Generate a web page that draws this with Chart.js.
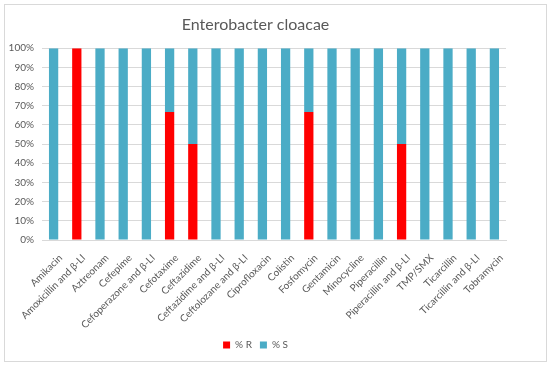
<!DOCTYPE html>
<html>
<head>
<meta charset="utf-8">
<script src="https://cdn.jsdelivr.net/npm/chart.js@4"></script>
<style>
    html, body { margin: 0; padding: 0; background: #fff; }
    #box { position: absolute; left: 4px; top: 4px; width: 541px; height: 356px; border: 1px solid #d9d9d9; }
    #chart { display: block; }
</style>
</head>
<body>
<div id="box"><canvas id="chart" width="541" height="356"></canvas></div>
<script>
const categories = ['Amikacin', 'Amoxicillin and β-LI', 'Aztreonam', 'Cefepime', 'Cefoperazone and β-LI',
    'Cefotaxime', 'Ceftazidime', 'Ceftazidime and β-LI', 'Ceftolozane and β-LI', 'Ciprofloxacin',
    'Colistin', 'Fosfomycin', 'Gentamicin', 'Minocycline', 'Piperacillin', 'Piperacillin and β-LI',
    'TMP/SMX', 'Ticarcillin', 'Ticarcillin and β-LI', 'Tobramycin'];
const pctR = [0, 100, 0, 0, 0, 66.7, 50, 0, 0, 0, 0, 66.7, 0, 0, 0, 50, 0, 0, 0, 0];
const pctS = [100, 0, 100, 100, 100, 33.3, 50, 100, 100, 100, 100, 33.3, 100, 100, 100, 50, 100, 100, 100, 100];

const txt = '#595959';
const font = 'Lato, "Open Sans", sans-serif';

new Chart(document.getElementById('chart').getContext('2d'), {
    type: 'bar',
    data: {
        labels: categories,
        datasets: [
            { label: '% R', data: pctR, backgroundColor: '#ff0000', barPercentage: 0.4, categoryPercentage: 1 },
            { label: '% S', data: pctS, backgroundColor: '#4bacc6', barPercentage: 0.4, categoryPercentage: 1 }
        ]
    },
    options: {
        responsive: false,
        animation: false,
        layout: { padding: { left: 0, right: 40, top: 0, bottom: 1 } },
        scales: {
            x: {
                stacked: true,
                grid: { display: false },
                border: { color: '#d9d9d9' },
                ticks: { color: txt, font: { family: font, size: 10 }, minRotation: 45, maxRotation: 45, padding: 4, labelOffset: 7, autoSkip: false },
                afterFit: s => { s.height = 92; }
            },
            y: {
                stacked: true,
                min: 0, max: 100,
                grid: { color: '#d9d9d9', drawTicks: false },
                border: { display: false },
                ticks: { stepSize: 10, color: txt, font: { family: font, size: 10 }, padding: 8, callback: v => v + '%' },
                afterFit: s => { s.width = 37; }
            }
        },
        plugins: {
            title: { display: true, text: 'Enterobacter cloacae', color: txt, font: { family: font, size: 16, weight: 'normal' }, padding: { top: 10, bottom: 14 } },
            legend: {
                position: 'bottom',
                labels: { color: txt, font: { family: font, size: 10 }, boxWidth: 7, boxHeight: 7, padding: 8 }
            },
            tooltip: { enabled: false }
        }
    }
});
</script>
</body>
</html>
